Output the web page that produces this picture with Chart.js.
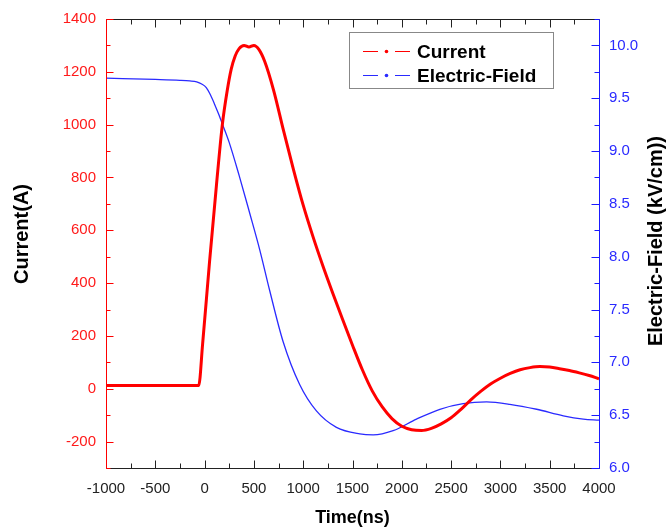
<!DOCTYPE html>
<html>
<head>
<meta charset="utf-8">
<script src="https://cdn.jsdelivr.net/npm/chart.js@4.4.1/dist/chart.umd.min.js"></script>
<style>
  body { margin: 0; background: #fff; }
</style>
</head>
<body>
<canvas id="grafik" width="671" height="531"></canvas>
<script>
// values
const currentTime = [-1000, -800, -600, -400, -200, -60, -20, 50, 120, 180, 230, 270, 310, 350, 400, 450, 500, 550, 609, 700, 800, 900, 1000, 1100, 1200, 1300, 1400, 1500, 1600, 1700, 1800, 1900, 2000, 2100, 2200, 2300, 2400, 2500, 2600, 2700, 2800, 2900, 3000, 3100, 3200, 3300, 3400, 3500, 3600, 3700, 3800, 3900, 4000];
const currentValues = [12, 12, 12, 12, 12, 12, 170, 480, 770, 1000, 1130, 1210, 1260, 1288, 1300, 1294, 1300, 1285, 1240, 1130, 978, 832, 695, 575, 465, 362, 262, 165, 72, -8, -68, -113, -142, -155, -158, -150, -133, -110, -78, -42, -10, 18, 40, 58, 72, 80, 84, 82, 76, 69, 60, 50, 38];

const fieldTime = [-1000, -500, -250, -150, -80, -30, 17, 60, 101, 140, 180, 250, 350, 457, 558, 660, 795, 964, 1134, 1337, 1574, 1709, 1912, 2149, 2386, 2622, 2860, 3096, 3367, 3638, 3841, 4000];
const fieldValues = [9.69, 9.678, 9.67, 9.664, 9.655, 9.635, 9.60, 9.53, 9.444, 9.355, 9.257, 9.08, 8.77, 8.414, 8.07, 7.68, 7.20, 6.79, 6.54, 6.384, 6.322, 6.313, 6.353, 6.463, 6.556, 6.609, 6.625, 6.603, 6.556, 6.494, 6.463, 6.453];

const timeTicks = [-1000, -500, 0, 500, 1000, 1500, 2000, 2500, 3000, 3500, 4000];
const currentTicks = [-200, 0, 200, 400, 600, 800, 1000, 1200, 1400];
const fieldTicks = [6.0, 6.5, 7.0, 7.5, 8.0, 8.5, 9.0, 9.5, 10.0];

const FONT = '"Liberation Sans", Arial, sans-serif';

function minorsBetween(scale, values) {
    const out = [];
    for (let i = 0; i < values.length - 1; i++) {
        out.push((scale.getPixelForValue(values[i]) + scale.getPixelForValue(values[i + 1])) / 2);
    }
    const step = scale.getPixelForValue(values[1]) - scale.getPixelForValue(values[0]);
    out.push(scale.getPixelForValue(values[0]) - step / 2);
    out.push(scale.getPixelForValue(values[values.length - 1]) + step / 2);
    return out;
}

function verticalText(ctx, text, x, y) {
    ctx.save();
    ctx.translate(x, y);
    ctx.rotate(-Math.PI / 2);
    ctx.fillStyle = '#000';
    ctx.font = 'bold 20px ' + FONT;
    ctx.textAlign = 'center';
    ctx.textBaseline = 'middle';
    ctx.fillText(text, 0, 0);
    ctx.restore();
}

// frame, inward ticks, axis titles and boxed legend
const frame = {
    id: 'frame',
    afterDatasetsDraw(chart) {
        const ctx = chart.ctx;
        const a = chart.chartArea;
        const x = chart.scales.x, y = chart.scales.y, y2 = chart.scales.y2;
        const L = Math.round(a.left) + 0.5, R = Math.round(a.right) + 0.5;
        const T = Math.round(a.top) + 0.5, B = Math.round(a.bottom) + 0.5;
        ctx.save();
        ctx.lineWidth = 1;

        ctx.strokeStyle = '#222';
        ctx.beginPath();
        timeTicks.forEach(v => {
            const px = Math.round(x.getPixelForValue(v)) + 0.5;
            ctx.moveTo(px, B); ctx.lineTo(px, B - 8);
            ctx.moveTo(px, T); ctx.lineTo(px, T + 8);
        });
        minorsBetween(x, timeTicks).forEach(p => {
            if (p < a.left || p > a.right) return;
            const px = Math.round(p) + 0.5;
            ctx.moveTo(px, B); ctx.lineTo(px, B - 5);
            ctx.moveTo(px, T); ctx.lineTo(px, T + 5);
        });
        ctx.moveTo(L, B); ctx.lineTo(R, B);
        ctx.moveTo(L, T); ctx.lineTo(R, T);
        ctx.stroke();

        ctx.strokeStyle = '#ff0000';
        ctx.beginPath();
        currentTicks.forEach(v => {
            const py = Math.round(y.getPixelForValue(v)) + 0.5;
            ctx.moveTo(L, py); ctx.lineTo(L + 7, py);
        });
        minorsBetween(y, currentTicks).forEach(p => {
            if (p < a.top || p > a.bottom) return;
            const py = Math.round(p) + 0.5;
            ctx.moveTo(L, py); ctx.lineTo(L + 4, py);
        });
        ctx.moveTo(L, T); ctx.lineTo(L, B);
        ctx.stroke();

        ctx.strokeStyle = '#1a1aff';
        ctx.beginPath();
        fieldTicks.forEach(v => {
            const py = Math.round(y2.getPixelForValue(v)) + 0.5;
            ctx.moveTo(R, py); ctx.lineTo(R - 8, py);
        });
        minorsBetween(y2, fieldTicks).forEach(p => {
            if (p < a.top || p > a.bottom) return;
            const py = Math.round(p) + 0.5;
            ctx.moveTo(R, py); ctx.lineTo(R - 5, py);
        });
        ctx.moveTo(R, T); ctx.lineTo(R, B);
        ctx.stroke();

        verticalText(ctx, 'Current(A)', 22, 234);
        verticalText(ctx, 'Electric-Field (kV/cm))', 656, 241);

        // legend
        ctx.strokeStyle = '#888';
        ctx.strokeRect(349.5, 32.5, 204, 56);
        ctx.font = 'bold 19px ' + FONT;
        ctx.textAlign = 'left';
        ctx.textBaseline = 'middle';
        chart.data.datasets.forEach((ds, i) => {
            const ly = Math.round(51 + i * 24) + 0.5;
            ctx.strokeStyle = ds.borderColor;
            ctx.lineWidth = 1;
            ctx.beginPath();
            ctx.moveTo(363, ly); ctx.lineTo(378, ly);
            ctx.moveTo(395, ly); ctx.lineTo(410, ly);
            ctx.stroke();
            ctx.fillStyle = ds.borderColor;
            ctx.beginPath();
            ctx.arc(386.5, ly, 1.8, 0, Math.PI * 2);
            ctx.fill();
            ctx.fillStyle = '#000';
            ctx.fillText(ds.label, 417, ly + 1);
        });
        ctx.restore();
    }
};

const ctx = document.getElementById('grafik').getContext('2d');
new Chart(ctx, {
    type: 'line',
    data: {
        datasets: [{
            label: 'Current',
            data: currentTime.map((t, i) => ({ x: t, y: currentValues[i] })),
            borderColor: '#ff0000',
            borderWidth: 3,
            yAxisID: 'y',
            cubicInterpolationMode: 'monotone'
        }, {
            label: 'Electric-Field',
            data: fieldTime.map((t, i) => ({ x: t, y: fieldValues[i] })),
            borderColor: '#2a2aff',
            borderWidth: 1.3,
            yAxisID: 'y2',
            cubicInterpolationMode: 'monotone'
        }]
    },
    options: {
        responsive: false,
        animation: false,
        layout: { padding: { top: 14 } },
        elements: { point: { radius: 0 } },
        plugins: {
            legend: { display: false },
            tooltip: { enabled: false }
        },
        scales: {
            x: {
                type: 'linear',
                min: -1000,
                max: 4000,
                grid: { display: false, drawTicks: false },
                border: { display: false },
                afterBuildTicks: s => { s.ticks = timeTicks.map(v => ({ value: v })); },
                afterFit: s => { s.height = 63; },
                ticks: {
                    color: '#222',
                    padding: 12,
                    autoSkip: false,
                    maxRotation: 0,
                    font: { family: FONT, size: 15 },
                    callback: v => String(v)
                },
                title: {
                    display: true,
                    text: 'Time(ns)',
                    color: '#000',
                    font: { family: FONT, size: 18, weight: 'bold' },
                    padding: { top: 0, bottom: 2 }
                }
            },
            y: {
                position: 'left',
                min: -300,
                max: 1400,
                grid: { display: false, drawTicks: false },
                border: { display: false },
                afterBuildTicks: s => { s.ticks = currentTicks.map(v => ({ value: v })); },
                afterFit: s => { s.width = 106; },
                ticks: {
                    color: '#ff1a1a',
                    padding: 10,
                    font: { family: FONT, size: 15 },
                    callback: v => String(v)
                }
            },
            y2: {
                position: 'right',
                min: 6.0,
                max: 10.25,
                grid: { display: false, drawTicks: false },
                border: { display: false },
                afterBuildTicks: s => { s.ticks = fieldTicks.map(v => ({ value: v })); },
                afterFit: s => { s.width = 72; },
                ticks: {
                    color: '#2a2aff',
                    padding: 10,
                    font: { family: FONT, size: 15 },
                    callback: v => v.toFixed(1)
                }
            }
        }
    },
    plugins: [frame]
});
</script>
</body>
</html>
